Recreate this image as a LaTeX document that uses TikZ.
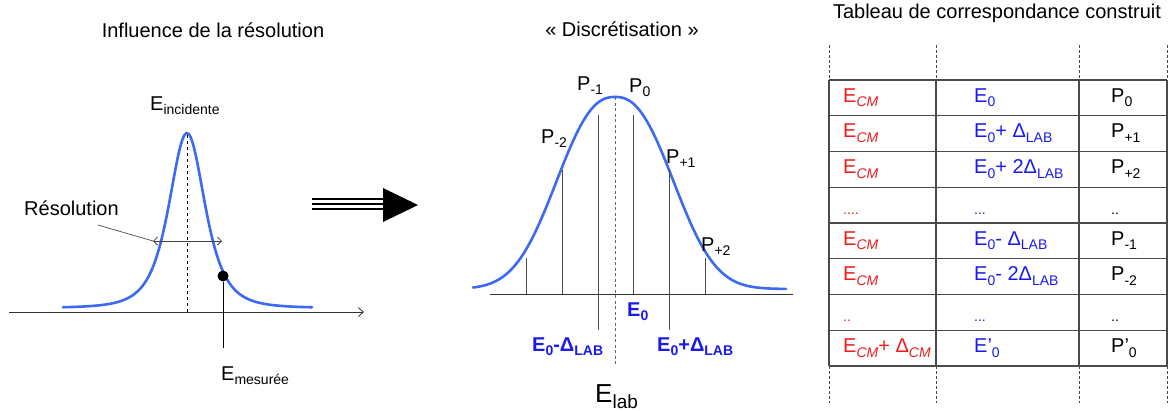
\documentclass[tikz,border=0pt]{standalone}
\usepackage{fontspec}
\setmainfont{Liberation Sans}
\usepackage{xcolor}
\usepackage{tikz}
\usetikzlibrary{arrows.meta,calc,positioning}
\definecolor{curveblue}{HTML}{3D6AF2}
\definecolor{labblue}{HTML}{1A1AEE}
\definecolor{cmred}{HTML}{EE1C1C}
\definecolor{gridgray}{HTML}{4A4A4A}
\newcommand{\lo}[1]{\raisebox{-0.45ex}{\fontsize{14}{15}\selectfont #1}}

\begin{document}
\begin{tikzpicture}[x=1pt,y=-1pt,
txt/.style={font=\fontsize{20}{22}\selectfont,inner sep=0pt,anchor=base west},
ttl/.style={font=\fontsize{20}{22}\selectfont,inner sep=0pt,anchor=base},
lab/.style={txt,font=\fontsize{20}{22}\selectfont\bfseries,text=labblue},
curve/.style={draw=curveblue,line width=2.6pt,line cap=round},
axis/.style={draw=black!80,line width=0.8pt},
tick/.style={draw=black!70,line width=0.8pt},
grid/.style={draw=gridgray,line width=1.2pt},
dots/.style={draw=gridgray,line width=0.9pt,dash pattern=on 2.5pt off 2.5pt}
]
\useasboundingbox (0,0) rectangle (1172,410);

% --- influence de la resolution
\node[ttl] (t1) at (213,37) {Influence de la résolution};
\draw[axis,-{Straight Barb[length=5pt,width=9pt]}] (9,312) -- (364,312);
\draw[curve] plot[domain=63:312,samples=120,smooth] (\x,{308-175/(1+((\x-187)/33)^2)^2});
\draw[dashed,line width=0.8pt] (187,135) -- (187,312);
\node[txt] (einc) at (150,110) {E\lo{incidente}};
\draw[draw=black!75,line width=0.8pt,{Straight Barb[length=4pt,width=8pt]}-{Straight Barb[length=4pt,width=8pt]}] (153,241) coordinate (rl) -- (222,241) coordinate (rr);
\node[txt] (resol) at (24,215) {Résolution};
\draw[draw=black!70,line width=0.7pt] ($(resol.base west)+(74,10)$) -- (rl);
\node[circle,fill=black,inner sep=0pt,minimum size=11pt] (dot) at (223,276) {};
\coordinate (mfoot) at (223,348);
\draw[line width=0.8pt] (dot) -- (mfoot);
\node[txt] (emes) at (221,380) {E\lo{mesurée}};

% --- big arrow
\foreach \yy in {199,204,209}
  \draw[line width=2.2pt] (312,\yy) -- (384,\yy);
\fill (383,188) -- (418,205) -- (383,222) -- cycle;

% --- discretisation
\node[ttl] (t2) at (622,36) {« Discrétisation »};
\draw[axis] (490,294) -- (793,294);
\draw[curve] plot[domain=473:786,samples=140,smooth] (\x,{289-192*exp(-(abs(\x-615)/73.5+0.0001)^2.4)});
\foreach \xx/\yy in {526/258,562/170,633/115,705/258}
  \draw[tick] (\xx,294) -- (\xx,\yy);
\foreach \xx/\yy in {598/115,669/170}
  \draw[tick] (\xx,330) -- (\xx,\yy);
\draw[draw=black!60,line width=1pt,dash pattern=on 3pt off 2.5pt] (615,97) -- (615,365);
\node[txt] (pm1) at (577,90) {P\lo{-1}};
\node[txt] (p0) at (629,92) {P\lo{0}};
\node[txt] (pm2) at (541,143) {P\lo{-2}};
\node[txt] (pp1) at (666,163) {P\lo{+1}};
\node[txt] (pp2) at (701,251) {P\lo{+2}};
\node[lab] (e0) at (627,316) {E\lo{\bfseries 0}};
\node[lab] (e0m) at (532,351) {E\lo{\bfseries 0}-Δ\lo{\bfseries LAB}};
\node[lab] (e0p) at (657,351) {E\lo{\bfseries 0}+Δ\lo{\bfseries LAB}};
\node[txt,font=\fontsize{26}{28}\selectfont] (elab) at (595,402) {E\lo{\fontsize{19}{20}\selectfont lab}};

% --- tableau
\node[ttl] (t3) at (997,18) {Tableau de correspondance construit};
\foreach \xx in {829,936,1079,1167} {
  \draw[grid] (\xx,80) -- (\xx,366);
  \draw[dots] (\xx,45) -- (\xx,80);
  \draw[dots] (\xx,366) -- (\xx,403);
}
\foreach \i in {0,...,8}
  \draw[grid] (829,80+35.75*\i) -- (1167,80+35.75*\i);
\foreach \i/\ca/\cb/\cc in {
  1/{E\lo{\itshape CM}}/{E\lo{0}}/{P\lo{0}},
  2/{E\lo{\itshape CM}}/{E\lo{0}+ Δ\lo{LAB}}/{P\lo{+1}},
  3/{E\lo{\itshape CM}}/{E\lo{0}+ 2Δ\lo{LAB}}/{P\lo{+2}},
  4/{\lo{....}}/{\lo{...}}/{\lo{..}},
  5/{E\lo{\itshape CM}}/{E\lo{0}- Δ\lo{LAB}}/{P\lo{-1}},
  6/{E\lo{\itshape CM}}/{E\lo{0}- 2Δ\lo{LAB}}/{P\lo{-2}},
  7/{\lo{..}}/{\lo{...}}/{\lo{..}},
  8/{E\lo{\itshape CM}+ Δ\lo{\itshape CM}}/{E’\lo{0}}/{P’\lo{0}}} {
  \node[txt,text=cmred] (ca\i) at (843,{102+35.75*(\i-1)}) {\ca};
  \node[txt,text=labblue] (cb\i) at (974,{102+35.75*(\i-1)}) {\cb};
  \node[txt] (cc\i) at (1111,{102+35.75*(\i-1)}) {\cc};
}
\end{tikzpicture}
\end{document}
